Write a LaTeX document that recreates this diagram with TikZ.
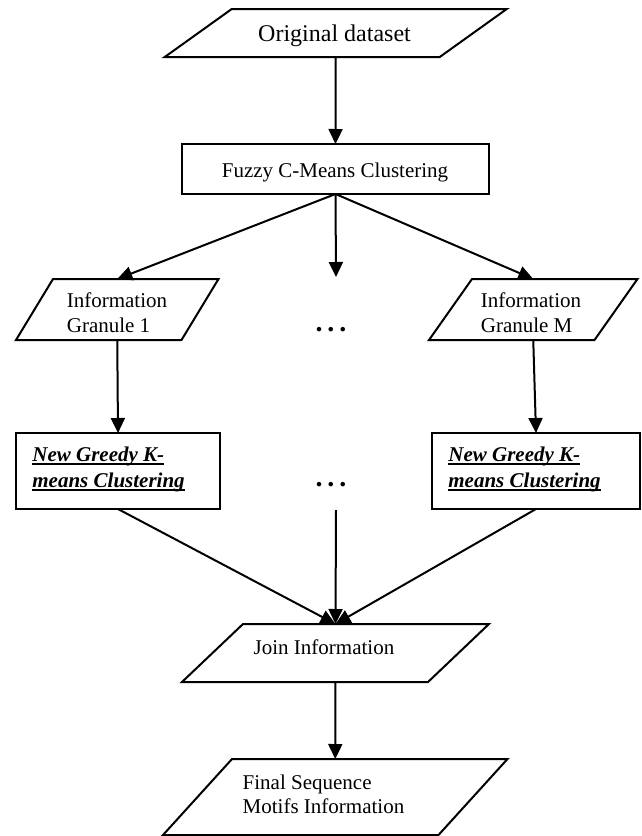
\documentclass[tikz,border=0pt]{standalone}
\usepackage{fontspec}
\setmainfont{Liberation Serif}
\usetikzlibrary{arrows.meta}
\newcommand{\drawpara}[2]{\draw[ln] ([xshift=#2]#1.north west) -- ([xshift=#2]#1.north east) -- ([xshift=-#2]#1.south east) -- ([xshift=-#2]#1.south west) -- cycle;}
\newsavebox\myubox
\newcommand{\bu}[1]{\sbox\myubox{\textbf{\textit{#1}}}\rlap{\usebox\myubox}\rule[-2.2pt]{\wd\myubox}{1pt}}
\newcommand{\mydots}{.\hspace{2.5pt}.\hspace{2.5pt}.}
\begin{document}
\begin{tikzpicture}[x=0.5pt,y=-0.5pt,
  ln/.style={line width=1pt},
  arr/.style={line width=1pt,-{Triangle[length=7.5pt,width=7pt]}},
  shp/.style={inner sep=0pt,outer sep=0pt},
  boxshape/.style={shp,draw,line width=1pt},
  txt/.style={font=\fontsize{10.5}{12.5}\selectfont,inner sep=0pt,align=left},
  bigtxt/.style={font=\fontsize{12}{14}\selectfont,inner sep=0pt},
  dots/.style={font=\fontsize{14}{16}\selectfont\bfseries,inner sep=0pt,anchor=base}]
\useasboundingbox (0,0) rectangle (642,836);

% shapes
\node[shp,minimum width=137.5pt,minimum height=24pt] (orig) at (335.75,33) {};
\drawpara{orig}{16.75pt}
\node[bigtxt] (origt) at (334.5,36) {Original dataset};

\node[boxshape,minimum width=153.5pt,minimum height=25pt] (fcm) at (335.5,169) {};
\node[txt] (fcmt) at (335,172) {Fuzzy C-Means Clustering};

\node[shp,minimum width=82.75pt,minimum height=30.5pt] (g1) at (117.25,309.5) {};
\drawpara{g1}{9.25pt}
\node[txt] (g1t) at (117,313) {Information\\Granule 1};

\node[shp,minimum width=82.75pt,minimum height=30.5pt] (gM) at (533.25,309.5) {};
\drawpara{gM}{10.75pt}
\node[txt] (gMt) at (531,313) {Information\\Granule M};

\node[dots] (dots1) at (331,331) {\mydots};

\node[boxshape,minimum width=102pt,minimum height=38pt] (k1) at (118,471) {};
\node[txt,font=\fontsize{10.5}{13}\selectfont,anchor=west] (k1t) at (32,469) {\bu{New Greedy K-}\\\bu{means Clustering}};

\node[boxshape,minimum width=104pt,minimum height=38pt] (kM) at (536,471) {};
\node[txt,font=\fontsize{10.5}{13}\selectfont,anchor=west] (kMt) at (448,469) {\bu{New Greedy K-}\\\bu{means Clustering}};

\node[dots] (dots2) at (331,486) {\mydots};

\node[shp,minimum width=123pt,minimum height=29pt] (join) at (335.5,653) {};
\drawpara{join}{15.25pt}
\node[txt] (joint) at (324,647) {Join Information};

\node[shp,minimum width=137.75pt,minimum height=38pt] (fin) at (335.25,797) {};
\drawpara{fin}{17.25pt}
\node[txt,font=\fontsize{10.5}{12}\selectfont] (fint) at (323.5,794.5) {Final Sequence\\Motifs Information};

% free ends
\coordinate (midend) at (336,277);
\coordinate (midstart) at (336,510);

% connectors
\draw[arr] (orig.south) -- (fcm.north);
\draw[arr] (fcm.south) -- (g1.north);
\draw[arr] (fcm.south) -- (midend);
\draw[arr] (fcm.south) -- (gM.north);
\draw[arr] (g1.south) -- (k1.north);
\draw[arr] (gM.south) -- (kM.north);
\draw[arr] (k1.south) -- (join.north);
\draw[arr] (midstart) -- (join.north);
\draw[arr] (kM.south) -- (join.north);
\draw[arr] (join.south) -- (fin.north);
\end{tikzpicture}
\end{document}
